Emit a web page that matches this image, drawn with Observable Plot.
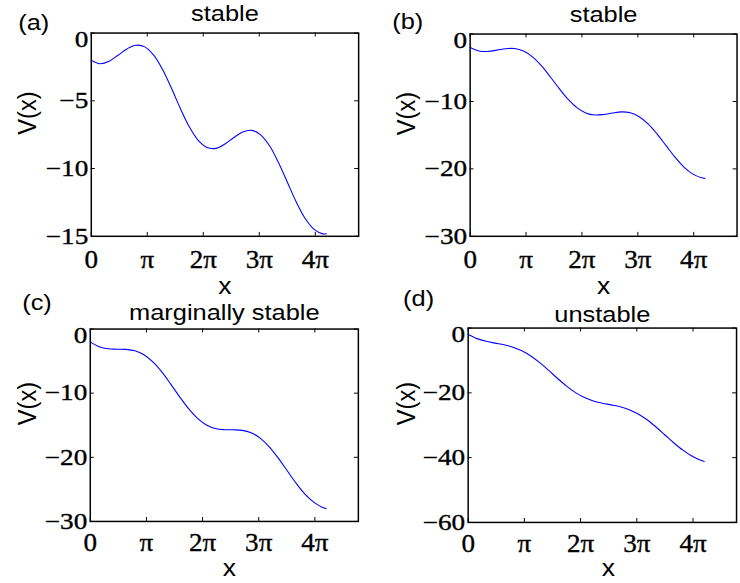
<!DOCTYPE html>
<html>
<head>
<meta charset="utf-8">
<script src="https://cdn.jsdelivr.net/npm/d3@7"></script>
<script src="https://cdn.jsdelivr.net/npm/@observablehq/plot@0.6"></script>
<style>
  html, body { margin: 0; padding: 0; background: #fff; }
  #fig { position: relative; width: 740px; height: 583px; overflow: hidden; background: #fff; }
  #fig svg { position: absolute; left: 0; top: 0; }
  #fig svg g[aria-label="x-axis tick label"],
  #fig svg g[aria-label="y-axis tick label"] {
    font-family: "Liberation Serif", "Times New Roman", serif;
    font-variant: normal;
    stroke: #000;
    stroke-width: 0.35px;
  }
</style>
</head>
<body>
<div id="fig"></div>
<script>
// Sample positions along x (radians) and the potential V(x) for each panel.
const xs = [0, 0.5, 1, 1.5, 2, 2.5, 3, 3.5, 4, 4.5, 5, 5.5, 6, 6.5, 7, 7.5, 8, 8.5, 9, 9.5,
            10, 10.5, 11, 11.5, 12, 12.5, 13, 13.19];
const vStableA = [-2.00, -2.26, -2.08, -1.64, -1.17, -0.90, -1.02, -1.63, -2.69, -4.08, -5.57, -6.92,
                  -7.92, -8.45, -8.51, -8.19, -7.71, -7.30, -7.18, -7.51, -8.32, -9.55, -11.01,
                  -12.47, -13.69, -14.49, -14.82, -14.81];
const vStableB = [-2.00, -2.51, -2.58, -2.39, -2.17, -2.15, -2.52, -3.38, -4.69, -6.33, -8.07, -9.67,
                  -10.92, -11.70, -12.01, -11.94, -11.71, -11.55, -11.68, -12.26, -13.32, -14.80,
                  -16.51, -18.22, -19.69, -20.74, -21.32, -21.41];
const vMarginal = [-2.00, -2.76, -3.08, -3.14, -3.17, -3.40, -4.02, -5.13, -6.69, -8.58, -10.57, -12.42,
                   -13.92, -14.95, -15.51, -15.69, -15.71, -15.80, -16.18, -17.01, -18.32, -20.05,
                   -22.01, -23.97, -25.69, -26.99, -27.82, -28.00];
const vUnstable = [-2.00, -3.26, -4.08, -4.64, -5.17, -5.90, -7.02, -8.63, -10.69, -13.08, -15.57, -17.92,
                   -19.92, -21.45, -22.51, -23.19, -23.71, -24.30, -25.18, -26.51, -28.32, -30.55,
                   -33.01, -35.47, -37.69, -39.49, -40.82, -41.19];

// Axis ticks and labels
const xTickMultiples = [0, 1, 2, 3, 4];
const xTickLabels = ["0", "π", "2π", "3π", "4π"];
const yTicksA = [0, -5, -10, -15];
const yTicksB = [0, -10, -20, -30];
const yTicksC = [0, -10, -20, -30];
const yTicksD = [0, -20, -40, -60];
const panelLetters = ["(a)", "(b)", "(c)", "(d)"];
const panelTitles = ["stable", "stable", "marginally stable", "unstable"];
const xLabel = "x";
const yLabel = "V(x)";

const SERIF = "Liberation Serif";
const SANS = "Liberation Sans";
const W = 750, H = 583;

const minus = (d) => (d < 0 ? "\u2212" + (-d) : String(d));

function panel({frame: [L, T, R, B], values, yTicks, letter, title, lay}) {
  const fw = R - L, fh = B - T;
  const data = xs.map((x, i) => ({x, v: values[i]}));
  const xTicks = xTickMultiples.map((k) => k * Math.PI);
  const xLabelOf = new Map(xTicks.map((t, i) => [t, xTickLabels[i]]));
  const tick = 4;
  return Plot.plot({
    width: W,
    height: H,
    marginLeft: L,
    marginRight: W - R,
    marginTop: T,
    marginBottom: H - B,
    style: {background: "transparent", overflow: "visible"},
    x: {domain: [0, 15]},
    y: {domain: [yTicks[yTicks.length - 1], 0]},
    marks: [
      Plot.line(data, {x: "x", y: "v", stroke: "#0000ff", strokeWidth: 1.1, curve: "catmull-rom"}),
      // inward tick marks on all four sides of the box
      Plot.tickX(xTicks, {x: (d) => d, insetTop: fh - tick, stroke: "#000"}),
      Plot.tickX(xTicks, {x: (d) => d, insetBottom: fh - tick, stroke: "#000"}),
      Plot.tickY(yTicks, {y: (d) => d, insetRight: fw - tick, stroke: "#000"}),
      Plot.tickY(yTicks, {y: (d) => d, insetLeft: fw - tick, stroke: "#000"}),
      Plot.axisX({ticks: xTicks, tickSize: 0, tickPadding: lay.xPad, tickFormat: (d) => xLabelOf.get(d),
        fontSize: 25, fontFamily: SERIF, fill: "#000", label: null}),
      Plot.axisY({ticks: yTicks.slice(0, 1), tickSize: 0, tickPadding: 3, tickFormat: minus,
        fontSize: 23, fontFamily: SERIF, fill: "#000", dy: 7, label: null}),
      Plot.axisY({ticks: yTicks.slice(1), tickSize: 0, tickPadding: 3, tickFormat: minus,
        fontSize: 23, fontFamily: SERIF, fill: "#000", label: null}),
      Plot.frame({stroke: "#000", strokeWidth: 1.5}),
      Plot.text([title], {frameAnchor: "top", lineAnchor: "bottom", dy: lay.titleDy,
        fontSize: 23, fontFamily: SANS, fill: "#000"}),
      Plot.text([letter], {frameAnchor: "top-left", textAnchor: "start", lineAnchor: "bottom",
        dx: lay.letterDx, dy: lay.letterDy, fontSize: 23, fontFamily: SANS, fill: "#000"}),
      Plot.text([xLabel], {frameAnchor: "bottom", lineAnchor: "bottom", dx: lay.xLabDx, dy: lay.xLabDy,
        fontSize: 24, fontFamily: SANS, fill: "#000"}),
      Plot.text([yLabel], {frameAnchor: "left", rotate: -90, dx: lay.yLabDx,
        fontSize: 24, fontFamily: SANS, fill: "#000"})
    ]
  });
}

const panels = [
  {frame: [92, 33, 363, 239], values: vStableA, yTicks: yTicksA,
   lay: {xPad: 14, titleDy: -12.3, letterDx: -74, letterDy: -3, xLabDx: 0, xLabDy: 58, yLabDx: -65}},
  {frame: [476, 34, 746.5, 239], values: vStableB, yTicks: yTicksB,
   lay: {xPad: 14, titleDy: -12.3, letterDx: -79, letterDy: -5, xLabDx: 0, xLabDy: 58, yLabDx: -65}},
  {frame: [91, 333, 362.7, 528], values: vMarginal, yTicks: yTicksC,
   lay: {xPad: 12, titleDy: -9, letterDx: -69, letterDy: -19, xLabDx: 5, xLabDy: 55, yLabDx: -64}},
  {frame: [474, 332, 746, 529], values: vUnstable, yTicks: yTicksD,
   lay: {xPad: 12, titleDy: -6, letterDx: -66, letterDy: -22, xLabDx: 6, xLabDy: 54, yLabDx: -62}}
];

// horizontal widening of glyphs per text group
const widen = {"x-axis tick label": 1.1, "y-axis tick label": 1.2};

const fig = document.getElementById("fig");
panels.forEach((p, i) => {
  const svg = panel({...p, letter: panelLetters[i], title: panelTitles[i]});
  svg.querySelectorAll("text").forEach((t) => {
    const group = t.closest("g[aria-label]");
    const k = (group && widen[group.getAttribute("aria-label")]) || 1.12;
    const tr = t.getAttribute("transform") || "";
    t.setAttribute("transform", tr + (tr.includes("rotate") ? ` scale(1,${k})` : ` scale(${k},1)`));
  });
  fig.appendChild(svg);
});
</script>
</body>
</html>
